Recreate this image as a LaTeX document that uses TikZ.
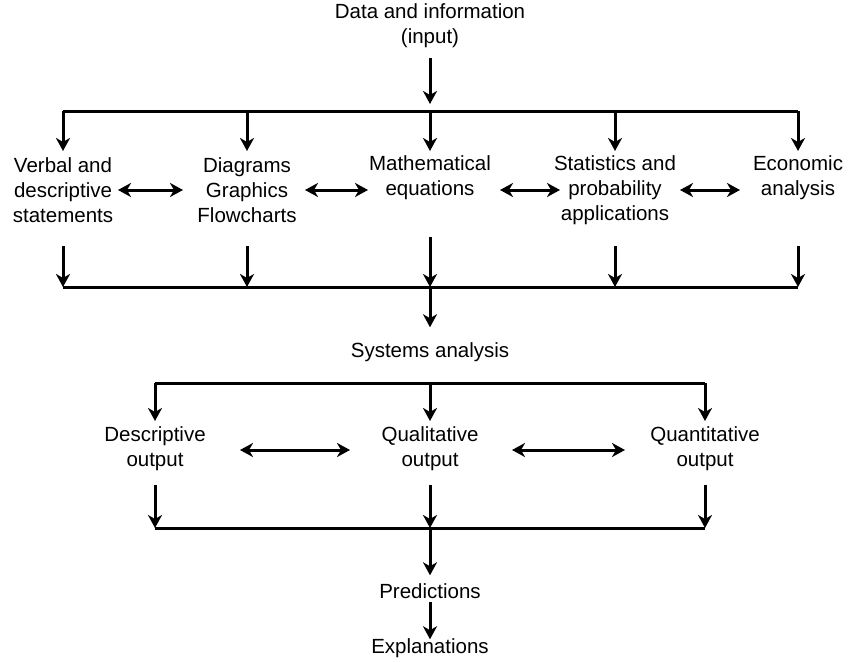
\documentclass[tikz,border=0pt]{standalone}
\usepackage{fontspec}
\setmainfont{Liberation Sans}
\usetikzlibrary{arrows.meta}
\begin{document}
\begin{tikzpicture}[x=1pt,y=-1pt,
  lbl/.style={align=center,inner sep=0pt,font=\fontsize{20.5}{25}\selectfont},
  ln/.style={line width=3pt},
  arr/.style={line width=3pt,-{Stealth[length=13pt,width=14pt,inset=4pt]}},
  darr/.style={line width=3pt,{Stealth[length=13pt,width=14pt,inset=4pt]}-{Stealth[length=13pt,width=14pt,inset=4pt]}}]
\useasboundingbox (0,0) rectangle (853,661);
% nodes
\node[lbl] (data) at (430,26) {Data and information\\(input)};
\node[lbl] (verbal) at (63,190) {Verbal and\\descriptive\\statements};
\node[lbl] (diag) at (247,190) {Diagrams\\Graphics\\Flowcharts};
\node[lbl] (math) at (430,178) {Mathematical\\equations};
\node[lbl] (stat) at (615,190) {Statistics and\\probability\\applications};
\node[lbl] (econ) at (798,178) {Economic\\analysis};
\node[lbl] (sys) at (430,352) {Systems analysis};
\node[lbl] (desc) at (155,449) {Descriptive\\output};
\node[lbl] (qual) at (430,449) {Qualitative\\output};
\node[lbl] (quan) at (705,449) {Quantitative\\output};
\node[lbl] (pred) at (430,591) {Predictions};
\node[lbl] (expl) at (430,648) {Explanations};
% bars
\coordinate (b1L) at (63,111); \coordinate (b1R) at (798,111); \coordinate (b1c) at (430,111);
\coordinate (b2L) at (63,287); \coordinate (b2R) at (798,287); \coordinate (b2c) at (430,287);
\coordinate (b3L) at (155,383); \coordinate (b3R) at (705,383); \coordinate (b3c) at (430,383);
\coordinate (b4L) at (155,528); \coordinate (b4R) at (705,528); \coordinate (b4c) at (430,528);
\draw[ln] (b1L) -- (b1R);
\draw[ln] (b2L) -- (b2R);
\draw[ln] (b3L) -- (b3R);
\draw[ln] (b4L) -- (b4R);
% input
\draw[arr,shorten <=10pt,shorten >=7pt] (data.south) -- (b1c);
% down to row 1
\foreach \n in {verbal,diag,math,stat,econ}{
  \draw[arr] (\n.north |- b1L) -- (\n.north |- 0,151);
}
% row 1 down to bar 2
\foreach \n in {verbal,diag,stat,econ}{
  \draw[arr] (\n.south |- 0,246) -- (\n.south |- b2L);
}
\draw[arr] (math.south |- 0,237) -- (math.south |- b2L);
\draw[arr,shorten >=15pt] (b2c) -- (sys.north);
% horizontal double arrows
\draw[darr] (118,190) -- (183,190);
\draw[darr] (305,190) -- (368,190);
\draw[darr] (500,190) -- (560,190);
\draw[darr] (680,190) -- (740,190);
% systems
\draw[arr] (desc.north |- b3L) -- (desc.north |- 0,421);
\draw[arr] (qual.north |- b3L) -- (qual.north |- 0,421);
\draw[arr] (quan.north |- b3L) -- (quan.north |- 0,421);
\draw[darr] (240,450) -- (350,450);
\draw[darr] (512,450) -- (625,450);
\draw[arr] (desc.south |- 0,485) -- (desc.south |- b4L);
\draw[arr] (qual.south |- 0,485) -- (qual.south |- b4L);
\draw[arr] (quan.south |- 0,485) -- (quan.south |- b4L);
\draw[arr,shorten >=8pt] (b4c) -- (pred.north);
\draw[arr,shorten >=-1pt] (pred.south |- 0,602) -- (expl.north);
\end{tikzpicture}
\end{document}
